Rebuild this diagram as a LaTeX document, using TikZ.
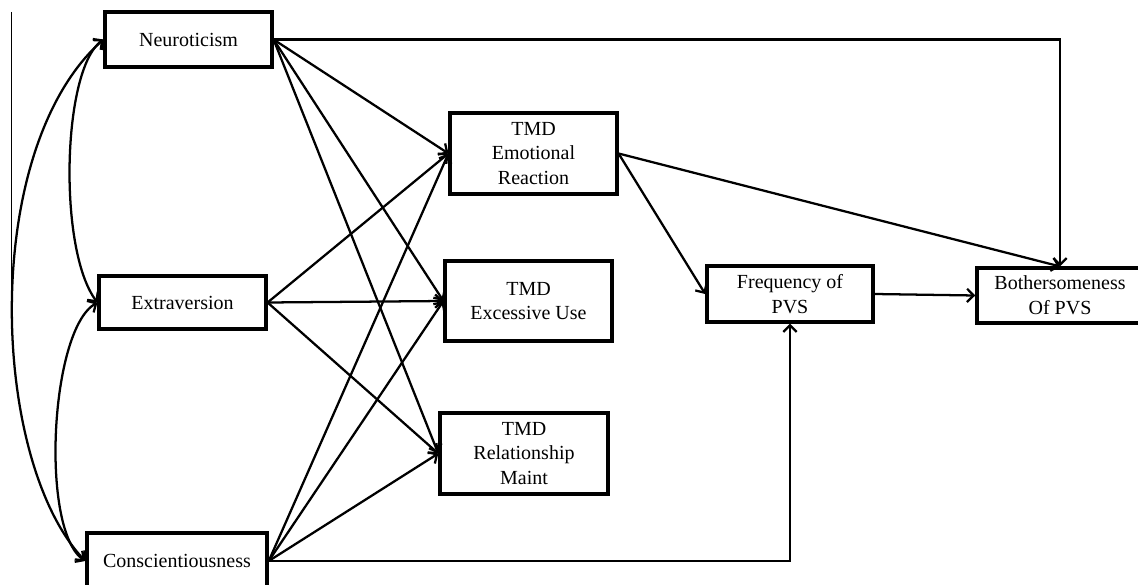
\documentclass[tikz,border=0pt]{standalone}
\usepackage{fontspec}
\setmainfont{Liberation Serif}
\usetikzlibrary{arrows.meta}

\begin{document}
\begin{tikzpicture}[x=0.75pt, y=-0.75pt,
    box/.style={rectangle, draw, line width=2.6pt, align=center, inner sep=0pt, font=\fontsize{15}{18.5}\selectfont},
    link/.style={-{Straight Barb[length=5pt,width=10pt]}, line width=1.7pt},
    corr/.style={{Straight Barb[length=5pt,width=10pt]}-{Straight Barb[length=5pt,width=10pt]}, line width=1.7pt}]
    \useasboundingbox (0,0) rectangle (1138,585);
    \clip (0,0) rectangle (1138,585);

    \node[box, minimum width=125pt, minimum height=41pt] (neuro) at (188.5,39.5) {Neuroticism};
    \node[box, minimum width=125pt, minimum height=40pt] (extra) at (182.5,302.5) {Extraversion};
    \node[box, minimum width=135pt, minimum height=42pt] (consc) at (177,561) {Conscientiousness};
    \node[box, minimum width=125pt, minimum height=61pt] (er) at (533.5,153.5) {TMD\\Emotional\\Reaction};
    \node[box, minimum width=125pt, minimum height=60pt] (eu) at (528.5,301) {TMD\\Excessive Use};
    \node[box, minimum width=126pt, minimum height=61pt] (rm) at (524,453.5) {TMD\\Relationship\\Maint};
    \node[box, minimum width=124.5pt, minimum height=42pt] (freq) at (790,294) {Frequency of\\PVS};
    \node[box, minimum width=124.5pt, minimum height=41pt] (both) at (1060,295.5) {Bothersomeness\\Of PVS};

    \draw[line width=0.6pt] (11,12) -- (11,300);

    \draw[corr] (neuro.west) .. controls (-20,150) and (-10,460) .. (consc.west);
    \draw[corr] (neuro.west) .. controls (62,70) and (58,250) .. (extra.west);
    \draw[corr] (extra.west) .. controls (50,330) and (40,530) .. (consc.west);

    \foreach \src in {neuro, extra, consc} {
        \foreach \dst in {er, eu, rm} {
            \draw[link] (\src.east) -- (\dst.west);
        }
    }
    \draw[link] (neuro.east) -| (both.north);
    \draw[link] (consc.east) -| (freq.south);
    \draw[link] (er.east) -- (freq.west);
    \draw[link] (er.east) -- (both.north);
    \draw[link] (freq.east) -- (both.west);
\end{tikzpicture}
\end{document}
